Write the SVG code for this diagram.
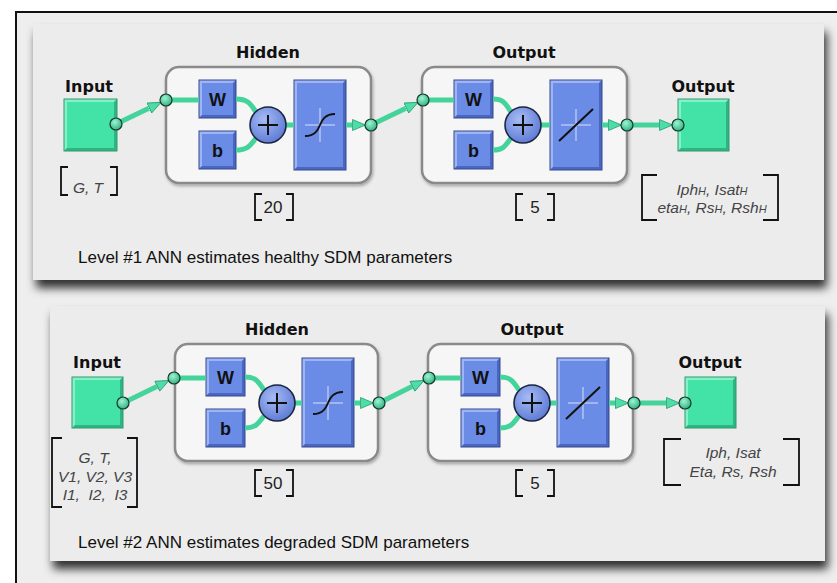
<svg xmlns="http://www.w3.org/2000/svg" width="837" height="583" viewBox="0 0 837 583">
<defs>
<style>
.lbl{font-family:"DejaVu Sans",sans-serif;font-weight:bold;font-size:16px;fill:#111;text-anchor:middle}
.wb{font-family:"Liberation Sans",Arial,sans-serif;font-weight:bold;font-size:18px;fill:#111;text-anchor:middle}
.it{font-family:"Liberation Sans",Arial,sans-serif;font-style:italic;font-size:15.5px;fill:#444;text-anchor:middle}
.num{font-family:"Liberation Sans",Arial,sans-serif;font-size:17px;fill:#222;text-anchor:middle}
.cap{font-family:"Liberation Sans",Arial,sans-serif;font-size:17px;fill:#111}
.sub{font-size:11px}
.panel{fill:#ececec;filter:url(#pshadow)}
.layer{fill:#f6f6f6;stroke:#8a8a8a;stroke-width:2.5;filter:url(#lshadow)}
.gbox{fill:#43e2a6}
.bbox{fill:#6b8ce6}
.edge{fill:none;stroke-width:1}
.gedge{stroke:#2e9a70}
.bedge{stroke:#34488f}
.lt-g{fill:#86f0c8}
.dk-g{fill:#2fb584}
.lt-b{fill:#9fb5f3}
.dk-b{fill:#4a66c0}
.wire{fill:none;stroke:#44d39b;stroke-width:5;stroke-linecap:butt}
.dot{fill:url(#gdot);stroke:#15392a;stroke-width:1.2}
.plus{fill:url(#bdot);stroke:#1b2440;stroke-width:1.6}
.pl{stroke:#111;stroke-width:2}
.cross{stroke:#d8e0fa;stroke-width:1}
.fn{fill:none;stroke:#111;stroke-width:2}
.br{fill:none;stroke:#111;stroke-width:1.8}
</style>
<filter id="pshadow" x="-5%" y="-10%" width="115%" height="135%">
<feDropShadow dx="3" dy="8" stdDeviation="5" flood-color="#000" flood-opacity="0.8"/>
</filter>
<filter id="lshadow" x="-5%" y="-5%" width="115%" height="120%">
<feDropShadow dx="1" dy="2" stdDeviation="1.5" flood-color="#000" flood-opacity="0.3"/>
</filter>
<radialGradient id="gdot" cx="0.4" cy="0.35" r="0.7">
<stop offset="0" stop-color="#9af5d2"/>
<stop offset="1" stop-color="#2fae7e"/>
</radialGradient>
<radialGradient id="bdot" cx="0.4" cy="0.35" r="0.75">
<stop offset="0" stop-color="#a6bbf6"/>
<stop offset="1" stop-color="#5674d0"/>
</radialGradient>
<marker id="ah" markerUnits="userSpaceOnUse" markerWidth="14" markerHeight="12" viewBox="0 0 14 12" refX="0" refY="6" orient="auto">
<path d="M0.5,0.5 L13.5,6 L0.5,11.5 Z" fill="#4ddda6" stroke="#2a9a70" stroke-width="0.8"/>
</marker>
</defs>

<rect x="0" y="0" width="837" height="583" fill="#ffffff"/>
<rect x="16" y="12" width="900" height="700" fill="#eeeeee" stroke="#111" stroke-width="2"/>

<!-- ================= PANEL 1 ================= -->
<g id="panel1">
<rect class="panel" x="33" y="24" width="791" height="256"/>
</g>

<g id="p1-input">
<text class="lbl" x="89" y="92">Input</text>
<rect class="gbox" x="64" y="99" width="53" height="52"/>
<polygon class="lt-g" points="64,99 117,99 114,102 67,102 67,148 64,151"/>
<polygon class="dk-g" points="117,99 117,151 64,151 67,148 114,148 114,102"/>
<rect class="edge gedge" x="64" y="99" width="53" height="52"/>
</g>

<g id="p1-hidden">
<text class="lbl" x="268" y="58">Hidden</text>
<rect class="layer" x="166" y="67" width="205" height="116" rx="13"/>
</g>

<g id="p1-hidden-W">
<rect class="bbox" x="199" y="80" width="37" height="38"/>
<polygon class="lt-b" points="199,80 236,80 233,83 202,83 202,115 199,118"/>
<polygon class="dk-b" points="236,80 236,118 199,118 202,115 233,115 233,83"/>
<rect class="edge bedge" x="199" y="80" width="37" height="38"/>
<text class="wb" x="217.5" y="106">W</text>
</g>
<g id="p1-hidden-b">
<rect class="bbox" x="199" y="131" width="37" height="38"/>
<polygon class="lt-b" points="199,131 236,131 233,134 202,134 202,166 199,169"/>
<polygon class="dk-b" points="236,131 236,169 199,169 202,166 233,166 233,134"/>
<rect class="edge bedge" x="199" y="131" width="37" height="38"/>
<text class="wb" x="217.5" y="157">b</text>
</g>
<g id="p1-hidden-tf">
<rect class="bbox" x="294" y="80" width="52" height="90"/>
<polygon class="lt-b" points="294,80 346,80 343,83 297,83 297,167 294,170"/>
<polygon class="dk-b" points="346,80 346,170 294,170 297,167 343,167 343,83"/>
<rect class="edge bedge" x="294" y="80" width="52" height="90"/>
<line class="cross" x1="305" y1="125" x2="335" y2="125"/>
<line class="cross" x1="320" y1="108" x2="320" y2="142"/>
<path class="fn" d="M305,136 C315,136 318,130 320,125 C322,120 325,114 335,114"/>
</g>

<g id="p1-output-layer">
<text class="lbl" x="524" y="58">Output</text>
<rect class="layer" x="422" y="67" width="205" height="116" rx="13"/>
</g>
<g id="p1-output-W">
<rect class="bbox" x="454" y="80" width="39" height="38"/>
<polygon class="lt-b" points="454,80 493,80 490,83 457,83 457,115 454,118"/>
<polygon class="dk-b" points="493,80 493,118 454,118 457,115 490,115 490,83"/>
<rect class="edge bedge" x="454" y="80" width="39" height="38"/>
<text class="wb" x="473.5" y="106">W</text>
</g>
<g id="p1-output-b">
<rect class="bbox" x="454" y="131" width="39" height="38"/>
<polygon class="lt-b" points="454,131 493,131 490,134 457,134 457,166 454,169"/>
<polygon class="dk-b" points="493,131 493,169 454,169 457,166 490,166 490,134"/>
<rect class="edge bedge" x="454" y="131" width="39" height="38"/>
<text class="wb" x="473.5" y="157">b</text>
</g>
<g id="p1-output-tf">
<rect class="bbox" x="550" y="80" width="52" height="90"/>
<polygon class="lt-b" points="550,80 602,80 599,83 553,83 553,167 550,170"/>
<polygon class="dk-b" points="602,80 602,170 550,170 553,167 599,167 599,83"/>
<rect class="edge bedge" x="550" y="80" width="52" height="90"/>
<line class="cross" x1="561" y1="125" x2="591" y2="125"/>
<line class="cross" x1="576" y1="109" x2="576" y2="141"/>
<line class="fn" x1="559" y1="141" x2="593" y2="109"/>
</g>

<g id="p1-output">
<text class="lbl" x="703" y="92">Output</text>
<rect class="gbox" x="678" y="99" width="51" height="52"/>
<polygon class="lt-g" points="678,99 729,99 726,102 681,102 681,148 678,151"/>
<polygon class="dk-g" points="729,99 729,151 678,151 681,148 726,148 726,102"/>
<rect class="edge gedge" x="678" y="99" width="51" height="52"/>
</g>

<!-- ================= PANEL 2 ================= -->
<g id="panel2">
<rect class="panel" x="50" y="306" width="775" height="255"/>
</g>

<g id="p2-input">
<text class="lbl" x="97" y="368">Input</text>
<rect class="gbox" x="72" y="377" width="51" height="51"/>
<polygon class="lt-g" points="72,377 123,377 120,380 75,380 75,425 72,428"/>
<polygon class="dk-g" points="123,377 123,428 72,428 75,425 120,425 120,380"/>
<rect class="edge gedge" x="72" y="377" width="51" height="51"/>
</g>

<g id="p2-hidden">
<text class="lbl" x="277" y="335">Hidden</text>
<rect class="layer" x="175" y="344" width="203" height="117" rx="13"/>
</g>
<g id="p2-hidden-W">
<rect class="bbox" x="206" y="358" width="39" height="38"/>
<polygon class="lt-b" points="206,358 245,358 242,361 209,361 209,393 206,396"/>
<polygon class="dk-b" points="245,358 245,396 206,396 209,393 242,393 242,361"/>
<rect class="edge bedge" x="206" y="358" width="39" height="38"/>
<text class="wb" x="225.5" y="384">W</text>
</g>
<g id="p2-hidden-b">
<rect class="bbox" x="206" y="409" width="39" height="38"/>
<polygon class="lt-b" points="206,409 245,409 242,412 209,412 209,444 206,447"/>
<polygon class="dk-b" points="245,409 245,447 206,447 209,444 242,444 242,412"/>
<rect class="edge bedge" x="206" y="409" width="39" height="38"/>
<text class="wb" x="225.5" y="435">b</text>
</g>
<g id="p2-hidden-tf">
<rect class="bbox" x="302" y="358" width="52" height="89"/>
<polygon class="lt-b" points="302,358 354,358 351,361 305,361 305,444 302,447"/>
<polygon class="dk-b" points="354,358 354,447 302,447 305,444 351,444 351,361"/>
<rect class="edge bedge" x="302" y="358" width="52" height="89"/>
<line class="cross" x1="313" y1="403" x2="343" y2="403"/>
<line class="cross" x1="328" y1="386" x2="328" y2="420"/>
<path class="fn" d="M313,414 C323,414 326,408 328,403 C330,398 333,392 343,392"/>
</g>

<g id="p2-output-layer">
<text class="lbl" x="532" y="335">Output</text>
<rect class="layer" x="428" y="344" width="205" height="117" rx="13"/>
</g>
<g id="p2-output-W">
<rect class="bbox" x="461" y="358" width="39" height="38"/>
<polygon class="lt-b" points="461,358 500,358 497,361 464,361 464,393 461,396"/>
<polygon class="dk-b" points="500,358 500,396 461,396 464,393 497,393 497,361"/>
<rect class="edge bedge" x="461" y="358" width="39" height="38"/>
<text class="wb" x="480.5" y="384">W</text>
</g>
<g id="p2-output-b">
<rect class="bbox" x="461" y="409" width="39" height="38"/>
<polygon class="lt-b" points="461,409 500,409 497,412 464,412 464,444 461,447"/>
<polygon class="dk-b" points="500,409 500,447 461,447 464,444 497,444 497,412"/>
<rect class="edge bedge" x="461" y="409" width="39" height="38"/>
<text class="wb" x="480.5" y="435">b</text>
</g>
<g id="p2-output-tf">
<rect class="bbox" x="557" y="358" width="52" height="89"/>
<polygon class="lt-b" points="557,358 609,358 606,361 560,361 560,444 557,447"/>
<polygon class="dk-b" points="609,358 609,447 557,447 560,444 606,444 606,361"/>
<rect class="edge bedge" x="557" y="358" width="52" height="89"/>
<line class="cross" x1="568" y1="403" x2="598" y2="403"/>
<line class="cross" x1="583" y1="387" x2="583" y2="419"/>
<line class="fn" x1="566" y1="419" x2="600" y2="387"/>
</g>

<g id="p2-output">
<text class="lbl" x="710" y="368">Output</text>
<rect class="gbox" x="685" y="377" width="51" height="51"/>
<polygon class="lt-g" points="685,377 736,377 733,380 688,380 688,425 685,428"/>
<polygon class="dk-g" points="736,377 736,428 685,428 688,425 733,425 733,380"/>
<rect class="edge gedge" x="685" y="377" width="51" height="51"/>
</g>

<!-- ================= CONNECTORS ================= -->
<g id="connectors">
<line class="wire" x1="116" y1="124" x2="148.9" y2="108.2" marker-end="url(#ah)"/>
<line class="wire" x1="166" y1="100" x2="199" y2="100"/>
<path class="wire" d="M236,99 C249,99 251,105 256,112"/>
<path class="wire" d="M236,150 C249,150 251,144 256,138"/>
<line class="wire" x1="286" y1="125" x2="294" y2="125"/>
<line class="wire" x1="346" y1="125" x2="352" y2="125" marker-end="url(#ah)"/>
<line class="wire" x1="371" y1="125" x2="405.9" y2="108.2" marker-end="url(#ah)"/>
<line class="wire" x1="423" y1="100" x2="454" y2="100"/>
<path class="wire" d="M493,99 C505,99 506,105 511,112"/>
<path class="wire" d="M493,150 C505,150 506,144 511,138"/>
<line class="wire" x1="541" y1="125" x2="550" y2="125"/>
<line class="wire" x1="602" y1="125" x2="608" y2="125" marker-end="url(#ah)"/>
<line class="wire" x1="627" y1="125" x2="659" y2="125" marker-end="url(#ah)"/>
<circle class="plus" cx="268" cy="125" r="18"/>
<line class="pl" x1="258" y1="125" x2="278" y2="125"/><line class="pl" x1="268" y1="115" x2="268" y2="135"/>
<circle class="plus" cx="523" cy="125" r="18"/>
<line class="pl" x1="513" y1="125" x2="533" y2="125"/><line class="pl" x1="523" y1="115" x2="523" y2="135"/>
<circle class="dot" cx="116" cy="124" r="6"/>
<circle class="dot" cx="166" cy="100" r="6"/>
<circle class="dot" cx="371" cy="125" r="6"/>
<circle class="dot" cx="423" cy="100" r="6"/>
<circle class="dot" cx="627" cy="125" r="6"/>
<circle class="dot" cx="678" cy="125" r="6"/>
<line class="wire" x1="123" y1="403" x2="156.9" y2="386.4" marker-end="url(#ah)"/>
<line class="wire" x1="174" y1="378" x2="206" y2="378"/>
<path class="wire" d="M245,377 C257,377 259,383 264,390"/>
<path class="wire" d="M245,428 C257,428 259,422 264,416"/>
<line class="wire" x1="295" y1="403" x2="302" y2="403"/>
<line class="wire" x1="354" y1="403" x2="360" y2="403" marker-end="url(#ah)"/>
<line class="wire" x1="379" y1="403" x2="412" y2="386.5" marker-end="url(#ah)"/>
<line class="wire" x1="429" y1="378" x2="461" y2="378"/>
<path class="wire" d="M500,377 C512,377 514,383 519,390"/>
<path class="wire" d="M500,428 C512,428 514,422 519,416"/>
<line class="wire" x1="550" y1="403" x2="557" y2="403"/>
<line class="wire" x1="609" y1="403" x2="615" y2="403" marker-end="url(#ah)"/>
<line class="wire" x1="634" y1="403" x2="666" y2="403" marker-end="url(#ah)"/>
<circle class="plus" cx="277" cy="403" r="18"/>
<line class="pl" x1="267" y1="403" x2="287" y2="403"/><line class="pl" x1="277" y1="393" x2="277" y2="413"/>
<circle class="plus" cx="532" cy="403" r="18"/>
<line class="pl" x1="522" y1="403" x2="542" y2="403"/><line class="pl" x1="532" y1="393" x2="532" y2="413"/>
<circle class="dot" cx="123" cy="403" r="6"/>
<circle class="dot" cx="174" cy="378" r="6"/>
<circle class="dot" cx="379" cy="403" r="6"/>
<circle class="dot" cx="429" cy="378" r="6"/>
<circle class="dot" cx="634" cy="403" r="6"/>
<circle class="dot" cx="685" cy="403" r="6"/>
</g>

<!-- ================= BRACKETS & TEXT ================= -->
<g id="p1-labels">
<path class="br" d="M68,167 H61 V195 H68"/>
<path class="br" d="M110,167 H117 V195 H110"/>
<text class="it" x="88" y="193">G, T</text>
<path class="br" d="M262,194 H255 V220 H262"/>
<path class="br" d="M286,194 H293 V220 H286"/>
<text class="num" x="273" y="213">20</text>
<path class="br" d="M523,194 H516 V220 H523"/>
<path class="br" d="M547,194 H554 V220 H547"/>
<text class="num" x="535" y="213">5</text>
<path class="br" d="M657,175 H642 V220 H657"/>
<path class="br" d="M763,175 H778 V220 H763"/>
<text class="it" x="712" y="195">Iph<tspan class="sub">H</tspan>, Isat<tspan class="sub">H</tspan></text>
<text class="it" x="712" y="213">eta<tspan class="sub">H</tspan>, Rs<tspan class="sub">H</tspan>, Rsh<tspan class="sub">H</tspan></text>
<text class="cap" x="78" y="263">Level #1 ANN estimates healthy SDM parameters</text>
</g>

<g id="p2-labels">
<path class="br" d="M62,438 H52 V507 H62"/>
<path class="br" d="M127,438 H137 V507 H127"/>
<text class="it" x="95" y="463">G, T,</text>
<text class="it" x="95" y="482">V1, V2, V3</text>
<text class="it" x="95" y="500" xml:space="preserve">I1,  I2,  I3</text>
<path class="br" d="M262,470 H255 V496 H262"/>
<path class="br" d="M286,470 H293 V496 H286"/>
<text class="num" x="273" y="489">50</text>
<path class="br" d="M523,470 H516 V496 H523"/>
<path class="br" d="M547,470 H554 V496 H547"/>
<text class="num" x="535" y="489">5</text>
<path class="br" d="M681,439 H664 V485 H681"/>
<path class="br" d="M783,439 H799 V485 H783"/>
<text class="it" x="733" y="458">Iph, Isat</text>
<text class="it" x="733" y="477">Eta, Rs, Rsh</text>
<text class="cap" x="78" y="548">Level #2 ANN estimates degraded SDM parameters</text>
</g>
</svg>
